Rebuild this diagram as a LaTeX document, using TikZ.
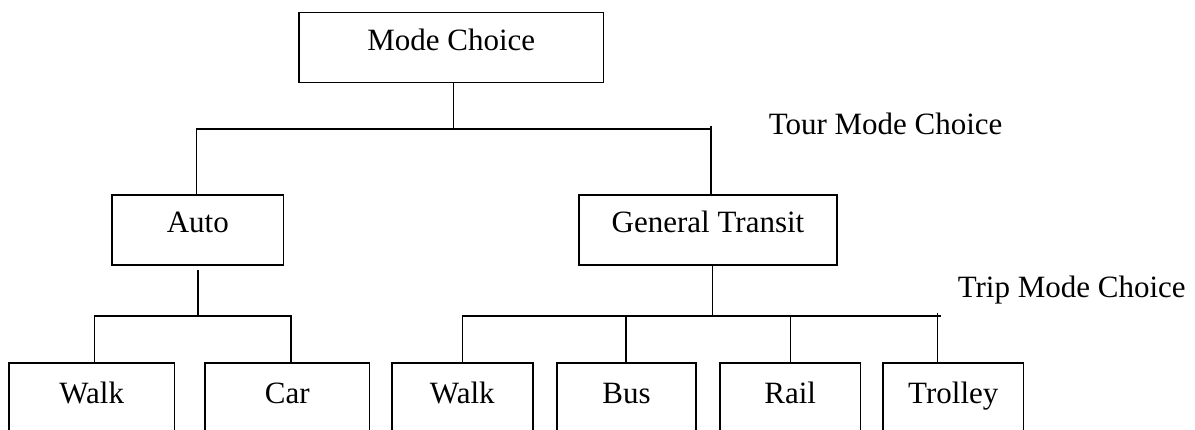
\documentclass[tikz,border=0pt]{standalone}
\usepackage{fontspec}
\setmainfont{Liberation Serif}
\begin{document}
\begin{tikzpicture}[x=1pt,y=-1pt,
  line width=1.5pt,
  txtfont/.style={font=\fontsize{31}{36}\selectfont},
  box/.style={draw, line width=1.5pt, inner sep=0pt, minimum height=70pt,
    text height=22pt, text depth=16pt, txtfont},
  leaf/.style={box, minimum height=80pt, text depth=20pt},
  lbl/.style={anchor=base west, inner sep=0pt, txtfont}]
  \clip (0,0) rectangle (1195,430);

  % upper levels
  \node[box, minimum width=304.6pt] (mode) at (451.3,47.4) {Mode Choice};
  \node[box, minimum width=171.5pt] (auto) at (197.75,229.9) {Auto};
  \node[box, minimum width=258pt]   (gt)   at (708,229.9) {General Transit};

  % leaves (open at the lower edge)
  \node[leaf, minimum width=165.5pt] (walkA)   at (91.75,403) {Walk};
  \node[leaf, minimum width=164.7pt] (car)     at (287.35,403) {Car};
  \node[leaf, minimum width=141pt]   (walkB)   at (462.3,403) {Walk};
  \node[leaf, minimum width=139pt]   (bus)     at (626.5,403) {Bus};
  \node[leaf, minimum width=140.5pt] (rail)    at (790.25,403) {Rail};
  \node[leaf, minimum width=140.6pt] (trolley) at (953.3,403) {Trolley};

  % level labels
  \node[lbl] (tour) at (768,135) {Tour Mode Choice};
  \node[lbl] (trip) at (957,298) {Trip Mode Choice};

  % junction points
  \coordinate (t1)  at (453.5,129);
  \coordinate (t1l) at (196.6,129);
  \coordinate (t1r) at (711,129);
  \coordinate (a2)  at (197.75,316);
  \coordinate (bl1) at (94.5,316);
  \coordinate (bl2) at (291,316);
  \coordinate (g2)  at (712.6,316);
  \coordinate (br1) at (462.7,316);
  \coordinate (br2) at (625.8,316);
  \coordinate (br3) at (790.4,316);
  \coordinate (br4) at (937.5,316);

  % tour level connectors
  \draw (mode.south -| t1) -- (t1);
  \draw (auto.north -| t1l) -- (t1l) -- (t1r);
  \draw ([yshift=3pt]t1r) -- (gt.north -| t1r);

  % trip level connectors, Auto branch
  \draw ([yshift=-4.3pt]auto.south) -- (a2);
  \draw (walkA.north -| bl1) -- (bl1) -- (bl2) -- (car.north -| bl2);

  % trip level connectors, transit branch
  \draw (gt.south -| g2) -- (g2);
  \draw (walkB.north -| br1) -- (br1) -- ([xshift=3pt]br4);
  \draw (br2) -- (bus.north -| br2);
  \draw (br3) -- (rail.north -| br3);
  \draw ([yshift=3pt]br4) -- (trolley.north -| br4);
\end{tikzpicture}
\end{document}
